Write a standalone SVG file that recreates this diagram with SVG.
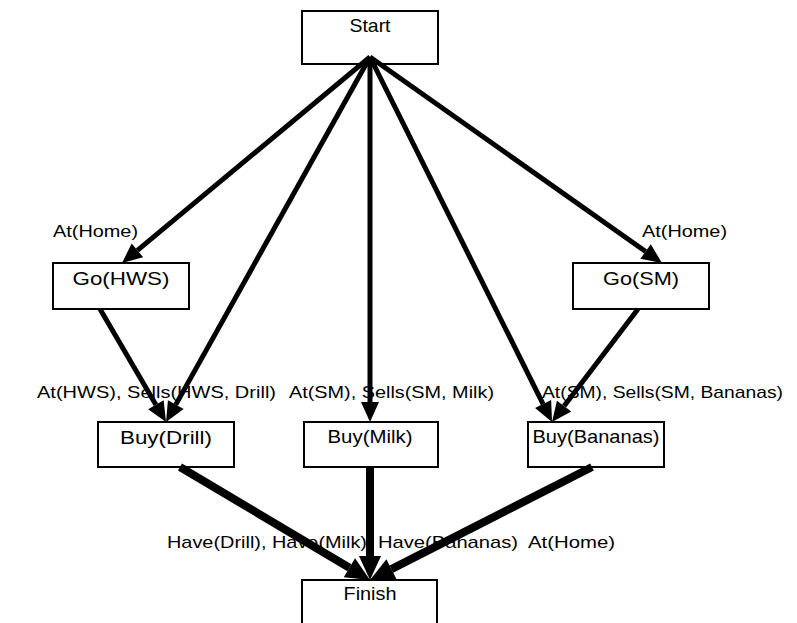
<svg xmlns="http://www.w3.org/2000/svg" width="797" height="623" viewBox="0 0 797 623">
<style>
.box{fill:#fff;stroke:#000;stroke-width:2}
.nt{font-family:"Liberation Sans",Arial,sans-serif;font-size:19px;fill:#000;text-anchor:middle}
.lb{font-family:"Liberation Sans",Arial,sans-serif;font-size:17px;fill:#000}
.e{stroke:#000;stroke-width:5;fill:none;marker-end:url(#ah)}
.eb{stroke:#000;stroke-width:8;fill:none;marker-end:url(#ahb)}
</style>
<defs>
<marker id="ah" markerUnits="userSpaceOnUse" viewBox="0 -9 20 18" refX="0" refY="0" markerWidth="20" markerHeight="18" orient="auto" overflow="visible">
<path d="M0,-9 L20,0 L0,9 z" fill="#000"/>
</marker>
<marker id="ahb" markerUnits="userSpaceOnUse" viewBox="0 -11 24 22" refX="0" refY="0" markerWidth="24" markerHeight="22" orient="auto" overflow="visible">
<path d="M0,-11 L24,0 L0,11 z" fill="#000"/>
</marker>
</defs>
<g id="start"><rect class="box" x="302" y="11" width="136" height="53"/><text class="nt" x="370" y="32" textLength="41" lengthAdjust="spacingAndGlyphs">Start</text></g>
<g id="go-hws"><rect class="box" x="53" y="263" width="136" height="46"/><text class="nt" x="121" y="285" textLength="97" lengthAdjust="spacingAndGlyphs">Go(HWS)</text></g>
<g id="go-sm"><rect class="box" x="573" y="263" width="136" height="46"/><text class="nt" x="641" y="285" textLength="76" lengthAdjust="spacingAndGlyphs">Go(SM)</text></g>
<g id="buy-drill"><rect class="box" x="98" y="422" width="136" height="45"/><text class="nt" x="166" y="444" textLength="92" lengthAdjust="spacingAndGlyphs">Buy(Drill)</text></g>
<g id="buy-milk"><rect class="box" x="304" y="422" width="134" height="45"/><text class="nt" x="370" y="443" textLength="85" lengthAdjust="spacingAndGlyphs">Buy(Milk)</text></g>
<g id="buy-bananas"><rect class="box" x="528" y="422" width="136" height="45"/><text class="nt" x="596" y="443" textLength="127" lengthAdjust="spacingAndGlyphs">Buy(Bananas)</text></g>
<g id="finish"><rect class="box" x="302" y="580" width="135" height="60"/><text class="nt" x="370" y="600" textLength="53" lengthAdjust="spacingAndGlyphs">Finish</text></g>
<g id="labels">
<text class="lb" x="53" y="237" textLength="85" lengthAdjust="spacingAndGlyphs">At(Home)</text>
<text class="lb" x="642" y="237" textLength="85" lengthAdjust="spacingAndGlyphs">At(Home)</text>
<text class="lb" x="37" y="398" textLength="239" lengthAdjust="spacingAndGlyphs">At(HWS), Sells(HWS, Drill)</text>
<text class="lb" x="289" y="398" textLength="205" lengthAdjust="spacingAndGlyphs">At(SM), Sells(SM, Milk)</text>
<text class="lb" x="542" y="398" textLength="241" lengthAdjust="spacingAndGlyphs">At(SM), Sells(SM, Bananas)</text>
<text class="lb" x="167" y="548" textLength="200" lengthAdjust="spacingAndGlyphs">Have(Drill), Have(Milk)</text>
<text class="lb" x="378" y="548" textLength="140" lengthAdjust="spacingAndGlyphs">Have(Bananas)</text>
<text class="lb" x="528" y="548" textLength="87" lengthAdjust="spacingAndGlyphs">At(Home)</text>
</g>
<g id="connectors">
<line class="e" x1="370" y1="57" x2="137.4" y2="250.3"/>
<line class="e" x1="370" y1="57" x2="175.8" y2="404.6"/>
<line class="e" x1="370" y1="57" x2="370" y2="402"/>
<line class="e" x1="370" y1="57" x2="543.1" y2="404.1"/>
<line class="e" x1="370" y1="57" x2="645.6" y2="251.5"/>
<line class="e" x1="100" y1="309" x2="155.9" y2="404.7"/>
<line class="e" x1="638" y1="309" x2="564.1" y2="406.1"/>
<line class="eb" x1="180" y1="467" x2="349.4" y2="567.7"/>
<line class="eb" x1="370" y1="467" x2="370" y2="556"/>
<line class="eb" x1="592" y1="467" x2="391.4" y2="569.1"/>
</g>
</svg>
